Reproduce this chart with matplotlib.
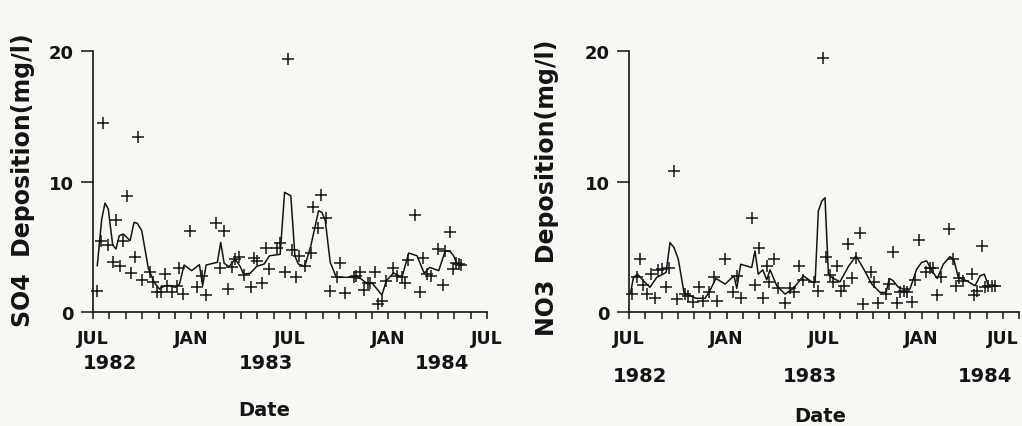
import matplotlib
matplotlib.use("Agg")
import matplotlib.pyplot as plt

# months counted from 1 Jul 1982
tick_pos = [0, 6, 12, 18, 24]
tick_labels = ["JUL", "JAN", "JUL", "JAN", "JUL"]
years = ["1982", "1983", "1984"]

so4_obs_m = [0.26, 0.47, 0.63, 0.93, 1.20, 1.40, 1.65, 1.81, 2.05, 2.30, 2.56, 2.72, 2.96, 3.48,
             3.64, 3.88, 4.12, 4.39, 4.53, 4.82, 5.10, 5.24, 5.51, 5.91, 6.36, 6.62, 6.89, 7.50,
             7.74, 7.99, 8.21, 8.45, 8.66, 8.92, 9.17, 9.63, 9.78, 9.98, 10.29, 10.53, 10.75,
             11.20, 11.40, 11.69, 11.85, 12.12, 12.36, 12.55, 12.93, 13.27, 13.43, 13.68, 13.90,
             14.17, 14.41, 14.86, 15.06, 15.37, 15.88, 16.04, 16.28, 16.48, 16.73, 16.89, 17.16,
             17.36, 17.60, 17.87, 18.27, 18.51, 18.82, 19.02, 19.17, 19.63, 19.90, 20.10, 20.35,
             20.59, 21.00, 21.30, 21.46, 21.73, 21.93, 22.13, 22.28, 22.44]
so4_obs = [1.63, 5.47, 14.5, 5.13, 3.86, 7.07, 3.55, 5.47, 8.9, 2.96, 4.24, 13.4, 2.48, 3.09,
           2.27, 1.51, 1.51, 2.91, 2.02, 1.51, 2.02, 3.35, 1.38, 6.18, 1.89, 2.78, 1.33, 6.82,
           3.35, 6.23, 1.76, 3.42, 4.06, 4.24, 2.84, 1.94, 4.16, 3.93, 2.22, 4.88, 3.30,
           4.88, 5.29, 3.09, 19.4, 4.77, 2.66, 4.31, 3.55, 4.52, 8.07, 6.41, 8.97,
           7.20, 1.58, 2.66, 3.75, 1.46, 2.66, 2.78, 3.09, 1.71, 2.22, 2.22, 3.09,
           0.61, 0.87, 2.40, 3.35, 2.78, 2.66, 2.22, 4.01, 7.46, 1.51, 4.16, 2.91,
           2.78, 4.83, 2.07, 4.70, 6.15, 3.30, 3.73, 3.68, 3.60]

so4_fit_m = [0.26, 0.53, 0.73, 0.93, 1.20, 1.40, 1.60, 1.85, 2.26, 2.50, 2.70, 2.97, 3.37, 3.72,
             4.05, 4.39, 4.70, 5.00, 5.27, 5.55, 6.01, 6.48, 6.68, 6.89, 7.58, 7.78, 7.99, 8.29,
             8.66, 8.96, 9.17, 9.57, 9.98, 10.43, 10.75, 11.40, 11.67, 12.05, 12.30, 12.50, 12.90,
             13.27, 13.74, 13.94, 14.15, 14.45, 14.82, 15.77, 16.28, 16.73, 17.00, 17.60, 17.87,
             18.31, 18.82, 19.23, 19.74, 20.18, 20.51, 21.06, 21.46, 21.77, 21.97, 22.17, 22.44]
so4_fit = [3.55, 7.1, 8.35, 7.9, 5.13, 4.83, 5.85, 5.98, 5.47, 6.87, 6.80, 6.23, 3.35, 2.27,
           1.76, 2.02, 2.02, 1.89, 2.15, 3.6, 3.17, 3.63, 2.02, 3.6, 3.81, 5.34, 3.73, 3.47,
           4.06, 3.5, 2.91, 2.96, 3.5, 3.68, 4.31, 4.42, 9.17, 8.91, 4.31, 3.68, 3.5,
           5.08, 7.76, 7.64, 7.0, 3.81, 2.66, 2.66, 2.58, 2.15, 2.22, 1.3, 2.4,
           2.99, 2.66, 4.52, 4.31, 2.96, 3.42, 3.17, 4.7, 4.62, 4.31, 3.68, 3.6]

no3_obs_m = [0.16, 0.47, 0.68, 0.88, 1.13, 1.34, 1.60, 1.80, 2.01, 2.28, 2.48, 2.77, 2.97, 3.45,
             3.65, 3.92, 4.33, 4.57, 4.94, 5.23, 5.43, 5.91, 6.42, 6.63, 6.87, 7.55, 7.75, 8.02,
             8.23, 8.47, 8.63, 8.92, 9.19, 9.60, 9.91, 10.15, 10.48, 10.73, 11.38, 11.65, 11.92,
             12.12, 12.37, 12.57, 12.82, 13.03, 13.23, 13.50, 13.71, 13.97, 14.22, 14.42, 14.87,
             15.08, 15.34, 15.82, 16.02, 16.26, 16.47, 16.68, 16.92, 17.13, 17.40, 17.60, 17.87,
             18.28, 18.52, 18.73, 18.97, 19.18, 19.71, 19.92, 20.12, 20.33, 20.57, 21.09, 21.23,
             21.40, 21.70, 21.91, 22.11, 22.32, 22.52]
no3_obs = [1.37, 2.65, 4.1, 2.06, 1.37, 2.9, 1.05, 3.23, 3.28, 1.89, 3.34, 10.84, 0.99, 1.37,
           1.25, 0.74, 1.89, 0.87, 1.5, 2.65, 0.87, 4.1, 1.5, 2.77, 1.05, 7.18, 2.06, 4.94,
           1.05, 3.53, 2.27, 4.1, 1.81, 0.69, 1.81, 1.5, 3.49, 2.47, 2.31, 1.63, 19.44,
           4.22, 2.82, 2.27, 3.49, 1.63, 1.96, 5.19, 2.57, 4.17, 6.03, 0.61, 3.08,
           2.31, 0.69, 1.37, 2.14, 4.6, 0.69, 1.5, 1.63, 1.55, 0.79, 2.47, 5.52,
           3.08, 3.34, 3.34, 1.3, 2.65, 6.34, 4.05, 1.96, 2.57, 2.39, 2.9, 1.3,
           1.63, 5.06, 1.89, 2.01, 2.01, 2.01]

no3_fit_m = [0.10, 0.27, 0.53, 0.88, 1.29, 1.70, 2.28, 2.52, 2.77, 3.03, 3.38, 3.75, 4.12, 4.68,
             4.94, 5.35, 5.91, 6.46, 6.63, 6.87, 7.55, 7.75, 7.95, 8.23, 8.47, 8.68, 9.09, 9.60,
             10.11, 10.73, 11.24, 11.45, 11.65, 11.86, 12.06, 12.27, 12.47, 12.98, 13.50, 13.97,
             14.42, 14.94, 15.45, 15.82, 16.02, 16.26, 16.57, 16.88, 17.29, 17.70, 18.00, 18.31,
             18.68, 18.97, 19.34, 19.75, 19.99, 20.26, 20.78, 21.29, 21.60, 21.86, 22.11, 22.52]
no3_fit = [1.5, 2.65, 2.9, 2.39, 1.89, 2.65, 3.03, 5.32, 4.94, 4.05, 1.5, 1.25, 1.05, 1.05,
           1.55, 2.57, 2.14, 2.77, 1.81, 3.66, 3.41, 4.68, 2.9, 3.23, 2.47, 3.23, 2.01, 1.37,
           1.81, 2.77, 2.31, 2.27, 7.73, 8.5, 8.76, 2.9, 2.65, 2.31, 3.49, 4.3,
           3.34, 2.14, 1.5, 1.5, 2.57, 2.39, 1.89, 1.76, 1.76, 3.28, 3.79, 3.92,
           3.08, 2.57, 3.66, 4.25, 4.0, 2.65, 2.39, 2.01, 2.77, 2.9, 2.06, 2.06]

BG = "#f7f7f3"
INK = "#141414"
plt.rcParams["font.family"] = ["DejaVu Sans"]
plt.rcParams["font.weight"] = "bold"


def panel(ax, obs_m, obs_v, fit_m, fit_v, ylabel, year_x, year_y, date_x, date_y, ylab_xy):
    ax.set_facecolor(BG)
    ax.plot(fit_m, fit_v, color=INK, lw=1.1, clip_on=False)
    ax.plot(obs_m, obs_v, ls="none", marker="+", ms=8.5, mew=1.1, color=INK, clip_on=False)
    ax.set_xlim(0, 24)
    ax.set_ylim(0, 20)
    for s in ("top", "right"):
        ax.spines[s].set_visible(False)
    for s in ("left", "bottom"):
        ax.spines[s].set_linewidth(1.2)
        ax.spines[s].set_color(INK)
    ax.set_xticks(tick_pos)
    ax.set_xticklabels(tick_labels, fontsize=12.5, color=INK, fontweight="bold")
    ax.set_xticks(range(25), minor=True)
    ax.tick_params(axis="x", which="both", direction="out", length=5, width=1.1,
                   colors=INK, pad=7)
    ax.set_yticks([0, 10, 20])
    ax.set_yticklabels(["0", "10", "20"], fontsize=13, color=INK, fontweight="bold")
    ax.tick_params(axis="y", direction="out", length=9, width=1.1, colors=INK, pad=5)
    ax.set_ylabel(ylabel, fontsize=17, color=INK, fontweight="bold")
    ax.yaxis.set_label_coords(*ylab_xy)
    for yr, x in zip(years, year_x):
        ax.text(x, year_y, yr, transform=ax.transAxes, ha="center", va="center",
                fontsize=14, color=INK, fontweight="bold")
    ax.text(date_x, date_y, "Date", transform=ax.transAxes, ha="center", va="center",
            fontsize=14, color=INK, fontweight="bold")


fig = plt.figure(figsize=(10.22, 4.27), dpi=100, facecolor=BG)
ax1 = fig.add_axes([0.091, 0.267, 0.3855, 0.611])
ax2 = fig.add_axes([0.6155, 0.267, 0.3816, 0.611])

panel(ax1, so4_obs_m, so4_obs, so4_fit_m, so4_fit, "SO4  Deposition(mg/l)",
      [0.043, 0.439, 0.886], -0.195, 0.434, -0.372, (-0.148, 0.51))
panel(ax2, no3_obs_m, no3_obs, no3_fit_m, no3_fit, "NO3  Deposition(mg/l)",
      [0.028, 0.464, 0.913], -0.245, 0.49, -0.398, (-0.18, 0.479))

# last month label on the right panel sits against the figure edge
ax2.get_xticklabels()[-1].set_horizontalalignment("right")

fig.savefig("out.png", dpi=100, facecolor=BG)
